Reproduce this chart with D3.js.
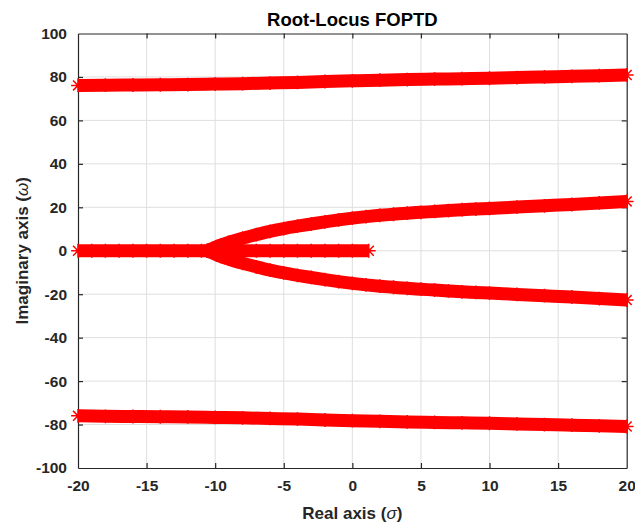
<!DOCTYPE html>
<html>
<head>
<meta charset="utf-8">
<script src="https://cdn.jsdelivr.net/npm/d3@7"></script>
<style>
	body { margin: 0; background: #fff; }
	text { font-family: 'Liberation Sans', Arial, sans-serif; }
</style>
</head>
<body>
<div id="canvas"></div>
<script>
// branches of the locus as [sigma, omega]
const upperFar = [[-20, 76.1], [-18, 76.2], [-16, 76.3], [-14, 76.4], [-12, 76.5], [-10, 76.7], [-8, 76.9], [-6, 77.2], [-4, 77.5], [-2, 77.9], [0, 78.2], [2, 78.5], [4, 78.8], [6, 79.0], [8, 79.2], [10, 79.4], [12, 79.7], [14, 80.0], [16, 80.3], [18, 80.6], [20, 80.9]];
const lowerFar = [[-20, -76.0], [-18, -76.2], [-16, -76.3], [-14, -76.4], [-12, -76.5], [-10, -76.7], [-8, -76.9], [-6, -77.2], [-4, -77.5], [-2, -77.9], [0, -78.2], [2, -78.5], [4, -78.8], [6, -79.0], [8, -79.2], [10, -79.4], [12, -79.7], [14, -80.0], [16, -80.3], [18, -80.6], [20, -80.9]];
const realAxis = [[-20, 0], [-19, 0], [-18, 0], [-17, 0], [-16, 0], [-15, 0], [-14, 0], [-13, 0], [-12, 0], [-11, 0], [-10, 0], [-9, 0], [-8, 0], [-7, 0], [-6, 0], [-5, 0], [-4, 0], [-3, 0], [-2, 0], [-1, 0], [0, 0], [1.2, 0]];
const upperNear = [[-10.6, 0], [-10.2, 1.0], [-9.6, 2.6], [-9, 3.9], [-8, 5.8], [-7, 7.4], [-6, 8.9], [-5, 10.2], [-4, 11.3], [-3, 12.3], [-2, 13.3], [-1, 14.2], [0, 15.0], [1, 15.7], [2, 16.3], [3, 16.8], [4, 17.3], [5, 17.7], [6, 18.1], [7, 18.5], [8, 18.9], [9, 19.2], [10, 19.5], [12, 20.1], [14, 20.7], [16, 21.3], [18, 22.0], [20, 22.7]];
const lowerNear = [[-10.6, 0], [-10.2, -1.0], [-9.6, -2.6], [-9, -3.9], [-8, -5.8], [-7, -7.4], [-6, -8.9], [-5, -10.2], [-4, -11.3], [-3, -12.3], [-2, -13.3], [-1, -14.2], [0, -15.0], [1, -15.7], [2, -16.3], [3, -16.8], [4, -17.3], [5, -17.7], [6, -18.1], [7, -18.5], [8, -18.9], [9, -19.2], [10, -19.5], [12, -20.1], [14, -20.7], [16, -21.3], [18, -22.0], [20, -22.7]];
const branches = [upperFar, lowerFar, realAxis, upperNear, lowerNear];

const xTicks = [-20, -15, -10, -5, 0, 5, 10, 15, 20];
const yTicks = [-100, -80, -60, -40, -20, 0, 20, 40, 60, 80, 100];
const xDomain = [-20, 20];
const yDomain = [-100, 100];

function drawChart () {
	const w = 635, h = 525;
	const m = { l: 78, r: 8.3, t: 33.5, b: 57 };
	const axisColor = '#262626';
	const fmt = d => String(d); // plain hyphen minus, like the original

	const x = d3.scaleLinear().domain(xDomain).range([m.l, w - m.r]);
	const y = d3.scaleLinear().domain(yDomain).range([h - m.b, m.t]);

	const svg = d3.select('#canvas').append('svg')
		.attr('width', w)
		.attr('height', h)
		.attr('viewBox', [0, 0, w, h]);

	// grid
	const grid = svg.append('g').attr('class', 'grid');
	grid.selectAll('line.gx')
		.data(xTicks.slice(1, -1))
		.join('line')
		.attr('x1', d => x(d)).attr('x2', d => x(d))
		.attr('y1', y(yDomain[0])).attr('y2', y(yDomain[1]))
		.style('stroke', '#dfdfdf').style('stroke-width', 1);
	grid.selectAll('line.gy')
		.data(yTicks.slice(1, -1))
		.join('line')
		.attr('x1', x(xDomain[0])).attr('x2', x(xDomain[1]))
		.attr('y1', d => y(d)).attr('y2', d => y(d))
		.style('stroke', '#dfdfdf').style('stroke-width', 1);

	// axes, ticks pointing inward on all four sides
	const tl = 5;
	const bottom = svg.append('g')
		.attr('transform', `translate(0,${ y(yDomain[0]) })`)
		.call(d3.axisBottom(x).tickValues(xTicks).tickFormat(fmt).tickSize(-tl).tickPadding(12).tickSizeOuter(0));
	const top = svg.append('g')
		.attr('transform', `translate(0,${ y(yDomain[1]) })`)
		.call(d3.axisTop(x).tickValues(xTicks).tickSize(-tl).tickFormat('').tickSizeOuter(0));
	const left = svg.append('g')
		.attr('transform', `translate(${ x(xDomain[0]) },0)`)
		.call(d3.axisLeft(y).tickValues(yTicks).tickFormat(fmt).tickSize(-tl).tickPadding(12).tickSizeOuter(0));
	const right = svg.append('g')
		.attr('transform', `translate(${ x(xDomain[1]) },0)`)
		.call(d3.axisRight(y).tickValues(yTicks).tickSize(-tl).tickFormat('').tickSizeOuter(0));

	[bottom, top, left, right].forEach(g => {
		g.select('.domain').style('stroke', axisColor).style('stroke-width', 1.2);
		g.selectAll('.tick line').style('stroke', axisColor).style('stroke-width', 1.2);
		g.selectAll('.tick text')
			.style('font-family', "'Liberation Sans', Arial, sans-serif")
			.style('font-size', '15.5px')
			.style('font-weight', 'bold')
			.style('fill', axisColor);
	});
	bottom.selectAll('.tick text').attr('dy', '0.71em');
	left.selectAll('.tick text').attr('dx', '1px');
	// remove tick marks sitting on the corners
	[bottom, top].forEach(g => g.selectAll('.tick line').filter(d => d === xDomain[0] || d === xDomain[1]).remove());
	[left, right].forEach(g => g.selectAll('.tick line').filter(d => d === yDomain[0] || d === yDomain[1]).remove());

	// locus branches: thick band plus asterisk markers
	const line = d3.line().curve(d3.curveMonotoneX).x(d => x(d[0])).y(d => y(d[1]));
	const r = 6.9;
	const star = `M${-r},0H${r}M0,${-r}V${r}M${-r * 0.72},${-r * 0.72}L${r * 0.72},${r * 0.72}M${-r * 0.72},${r * 0.72}L${r * 0.72},${-r * 0.72}`;

	const locus = svg.append('g').attr('class', 'locus');
	locus.selectAll('path.band')
		.data(branches)
		.join('path')
		.attr('class', 'band')
		.attr('d', line)
		.style('fill', 'none')
		.style('stroke', '#ff0000')
		.style('stroke-width', 13)
		.style('stroke-linejoin', 'round');
	locus.selectAll('g.marks')
		.data(branches)
		.join('g')
		.attr('class', 'marks')
	.selectAll('path')
		.data(d => d)
		.join('path')
		.attr('transform', d => `translate(${ x(d[0]) },${ y(d[1]) })`)
		.attr('d', star)
		.style('fill', 'none')
		.style('stroke', '#ff0000')
		.style('stroke-width', 1.5);

	// labels
	svg.append('text')
		.attr('x', (x(xDomain[0]) + x(xDomain[1])) / 2)
		.attr('y', 26)
		.attr('text-anchor', 'middle')
		.style('font-size', '18.5px')
		.style('font-weight', 'bold')
		.style('fill', '#000')
		.text('Root-Locus FOPTD');

	const xl = svg.append('text')
		.attr('x', (x(xDomain[0]) + x(xDomain[1])) / 2)
		.attr('y', 519)
		.attr('text-anchor', 'middle')
		.style('font-size', '17px')
		.style('font-weight', 'bold')
		.style('fill', axisColor);
	xl.append('tspan').text('Real axis (');
	xl.append('tspan').style('font-style', 'italic').style('font-weight', 'normal').text('σ');
	xl.append('tspan').text(')');

	const yl = svg.append('text')
		.attr('transform', `translate(28,${ (y(yDomain[0]) + y(yDomain[1])) / 2 })rotate(-90)`)
		.attr('text-anchor', 'middle')
		.style('font-size', '17px')
		.style('font-weight', 'bold')
		.style('fill', axisColor);
	yl.append('tspan').text('Imaginary axis (');
	yl.append('tspan').style('font-style', 'italic').style('font-weight', 'normal').text('ω');
	yl.append('tspan').text(')');
}

drawChart();
</script>
</body>
</html>
